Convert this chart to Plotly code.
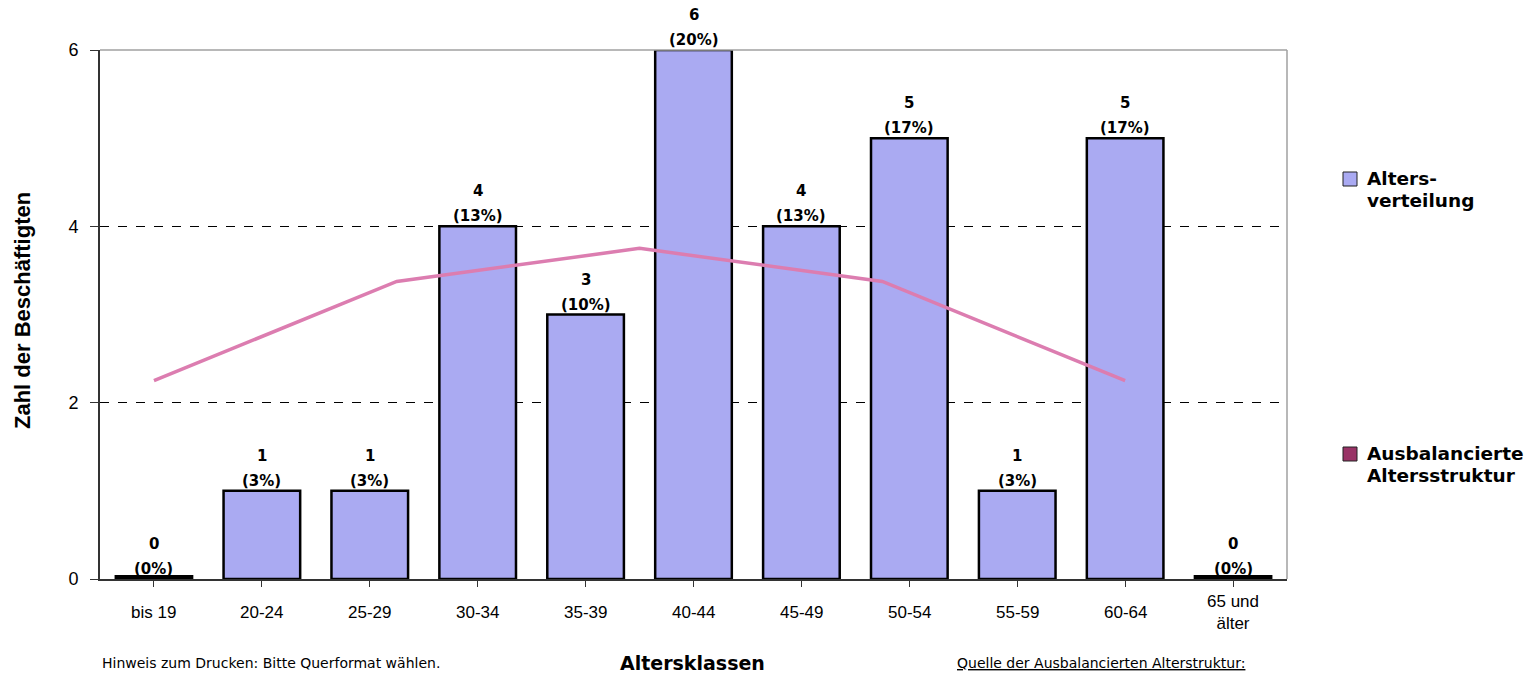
import plotly.graph_objects as go

categories = ["bis 19", "20-24", "25-29", "30-34", "35-39", "40-44",
              "45-49", "50-54", "55-59", "60-64", "65 und<br>älter"]
counts = [0, 1, 1, 4, 3, 6, 4, 5, 1, 5, 0]
balanced_idx = [0, 1, 2, 3, 4]
balanced_vals = [2.25, 3.375, 3.75, 3.375, 2.25]
y_ticks = [0, 2, 4, 6]

total = sum(counts)
percents = [round(100 * c / total) for c in counts]

BAR_FILL = "#AAAAF2"
LINE_COL = "#DC7DB0"
LEG2_COL = "#993366"
BAR_W = 0.71

# plot area in pixels
L, R, T, B = 100, 1287, 50, 579
W, H = 1534, 675
def px(x):
    return (x - L) / (R - L)
def py(y):
    return (B - y) / (B - T)

fig = go.Figure()
fig.add_trace(go.Bar(
    x=list(range(len(categories))), y=counts, width=BAR_W,
    marker=dict(color=BAR_FILL, line=dict(color="black", width=2.5)),
    showlegend=False, hoverinfo="skip",
))
fig.add_trace(go.Scatter(
    x=balanced_idx, y=balanced_vals, xaxis="x2", mode="lines",
    line=dict(color=LINE_COL, width=3.5), showlegend=False, hoverinfo="skip",
))

shapes = []
annotations = []
n = len(categories)
for i, (c, p) in enumerate(zip(counts, percents)):
    if c == 0:
        shapes.append(dict(type="rect", xref="x", yref="y", x0=i - BAR_W / 2 - 0.01,
                           x1=i + BAR_W / 2 + 0.01, ysizemode="pixel", yanchor=0,
                           y0=0, y1=4, fillcolor="black", line=dict(width=0)))
    annotations.append(dict(x=i, y=c, xref="x", yref="y", text=f"<b>{c}</b>",
                            showarrow=False, yanchor="middle", yshift=35,
                            font=dict(family="DejaVu Sans", size=15, color="black")))
    annotations.append(dict(x=i, y=c, xref="x", yref="y", text=f"<b>({p}%)</b>",
                            showarrow=False, yanchor="middle", yshift=10,
                            font=dict(family="DejaVu Sans", size=15, color="black")))
    annotations.append(dict(x=i, y=0, xref="x", yref="y", text=categories[i],
                            showarrow=False, yanchor="middle", yshift=-33,
                            font=dict(family="Liberation Sans", size=17, color="black")))

# top and right plot border (grey)
shapes.append(dict(type="line", xref="paper", yref="paper", x0=0, x1=1, y0=1, y1=1,
                   line=dict(color="#A0A0A0", width=1.5)))
shapes.append(dict(type="line", xref="paper", yref="paper", x0=1, x1=1, y0=0, y1=1,
                   line=dict(color="#A0A0A0", width=1.5)))

# legend
for (sy, col, lines) in [(172, BAR_FILL, ["Alters-", "verteilung"]),
                         (447, LEG2_COL, ["Ausbalancierte", "Altersstruktur"])]:
    shapes.append(dict(type="rect", xref="paper", yref="paper",
                       x0=px(1343), x1=px(1357), y0=py(sy + 14), y1=py(sy),
                       fillcolor=col, line=dict(color="#222222", width=1)))
    for k, t in enumerate(lines):
        annotations.append(dict(xref="paper", yref="paper", x=px(1365), y=py(sy + 6 + 22 * k),
                                text=f"<b>{t}</b>", showarrow=False, xanchor="left",
                                yanchor="middle",
                                font=dict(family="DejaVu Sans", size=18.5, color="black")))

# axis title and footers
annotations.append(dict(xref="paper", yref="paper", x=px(692), y=py(663), text="<b>Altersklassen</b>",
                        showarrow=False, xanchor="center", yanchor="middle",
                        font=dict(family="DejaVu Sans", size=19, color="black")))
annotations.append(dict(xref="paper", yref="paper", x=px(22), y=py(311), text="<b>Zahl der Beschäftigten</b>",
                        showarrow=False, textangle=-90, xanchor="center", yanchor="middle",
                        font=dict(family="Liberation Sans", size=22, color="black")))
annotations.append(dict(xref="paper", yref="paper", x=px(100), y=py(663),
                        text="Hinweis zum Drucken: Bitte Querformat wählen.",
                        showarrow=False, xanchor="left", yanchor="middle",
                        font=dict(family="DejaVu Sans", size=14, color="black")))
annotations.append(dict(xref="paper", yref="paper", x=px(955), y=py(663),
                        text="<u>Quelle der Ausbalancierten Alterstruktur:</u>",
                        showarrow=False, xanchor="left", yanchor="middle",
                        font=dict(family="DejaVu Sans", size=14, color="black")))

fig.update_layout(
    width=W, height=H,
    margin=dict(l=L, r=W - R, t=T, b=H - B, pad=0),
    paper_bgcolor="white", plot_bgcolor="white",
    xaxis=dict(range=[-0.5, n - 0.5], tickvals=list(range(n)), showticklabels=False,
               ticks="outside", tickson="boundaries", ticklen=6, tickcolor="#333333",
               showline=True, linecolor="#333333", linewidth=2, showgrid=False,
               zeroline=False, fixedrange=True),
    xaxis2=dict(overlaying="x", visible=False,
                range=[-0.5 * 4 / 9, (n - 0.5) * 4 / 9]),
    yaxis=dict(range=[0, 6], tickvals=y_ticks, ticks="outside", ticklen=8,
               tickcolor="#333333", showline=True, linecolor="#333333", linewidth=2,
               showgrid=True, gridcolor="black", griddash="dash", gridwidth=1,
               zeroline=False, ticklabelstandoff=8,
               tickfont=dict(family="Liberation Sans", size=18, color="black")),
    shapes=shapes, annotations=annotations, bargap=0.29,
)
fig.write_html("out.html", config={"displayModeBar": False},
               post_script="document.body.style.margin='0';document.body.style.overflow='hidden';")
